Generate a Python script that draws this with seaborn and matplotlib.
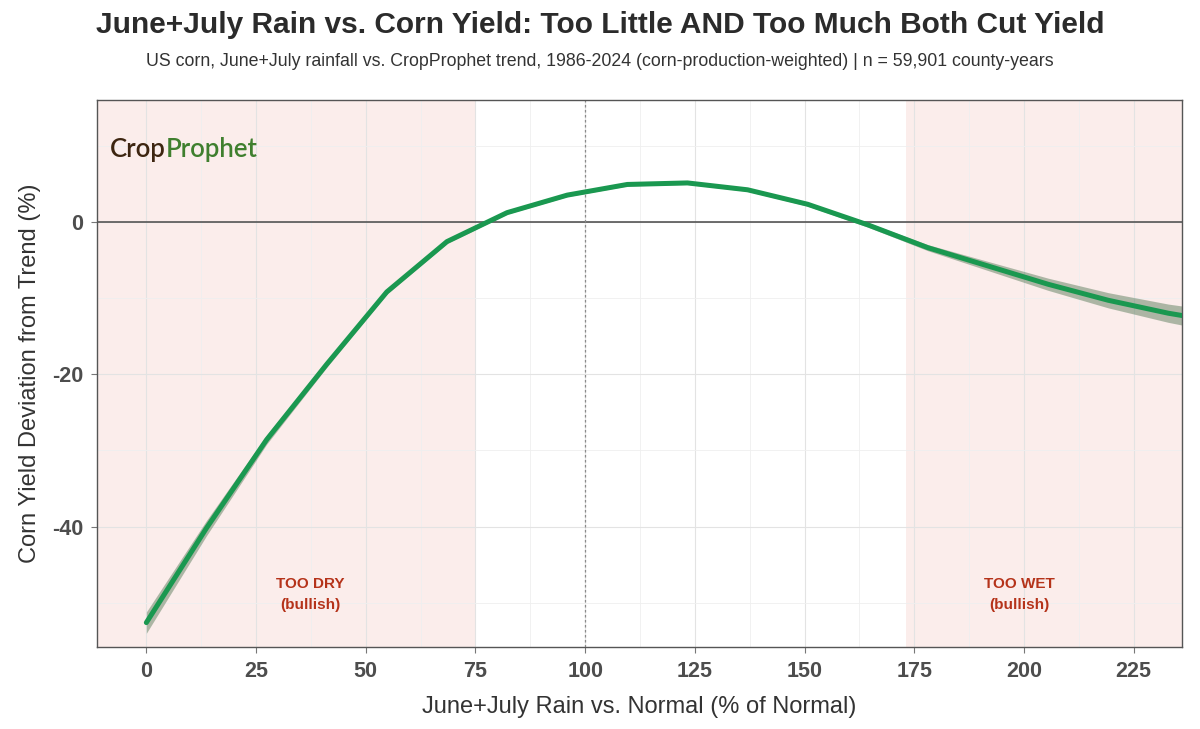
import numpy as np
import pandas as pd
import matplotlib
matplotlib.use("Agg")
import matplotlib.pyplot as plt
from matplotlib.ticker import MultipleLocator
import seaborn as sns

# binned curve
rain_pct = [0, 13.7, 27.4, 41.1, 54.8, 68.5, 82.2, 95.9, 109.6, 123.3,
            137.0, 150.7, 164.4, 178.1, 191.8, 205.5, 219.2, 232.9, 236.0]
yield_dev = [-52.6, -40.2, -28.6, -18.7, -9.2, -2.6, 1.2, 3.5, 4.9, 5.1,
             4.2, 2.3, -0.4, -3.4, -5.8, -8.2, -10.3, -12.0, -12.3]
ci_half = [1.4, 1.0, 0.6, 0.4, 0.3, 0.25, 0.2, 0.2, 0.2, 0.2,
           0.2, 0.25, 0.3, 0.4, 0.6, 0.8, 1.0, 1.2, 1.25]

dry_zone = (-15, 75)
wet_zone = (173, 250)

df = pd.DataFrame({"rain": rain_pct, "dev": yield_dev, "ci": ci_half})

sns.set_theme(style="white")
plt.rcParams["font.family"] = ["Liberation Sans", "DejaVu Sans"]
plt.rcParams["axes.unicode_minus"] = False

fig = plt.figure(figsize=(12, 7.29), dpi=100)
ax = fig.add_axes([0.081, 0.1125, 0.904, 0.7505])

# shaded zones
for lo, hi in [dry_zone, wet_zone]:
    ax.axvspan(lo, hi, color="#f8dcd8", alpha=0.5, lw=0, zorder=0)

# grid
ax.xaxis.set_major_locator(MultipleLocator(25))
ax.xaxis.set_minor_locator(MultipleLocator(12.5))
ax.yaxis.set_major_locator(MultipleLocator(20))
ax.yaxis.set_minor_locator(MultipleLocator(10))
ax.grid(which="major", color="#e3e3e3", lw=0.8, zorder=0.5)
ax.grid(which="minor", color="#efefef", lw=0.6, zorder=0.5)
ax.set_axisbelow(True)

ax.axhline(0, color="#555555", lw=1.2, zorder=1)
ax.axvline(100, color="#8a8a8a", lw=0.9, ls=(0, (2, 2)), zorder=1)

ax.fill_between(df["rain"], df["dev"] - df["ci"], df["dev"] + df["ci"],
                color="#5f7f5f", alpha=0.5, lw=0, zorder=2)
sns.lineplot(data=df, x="rain", y="dev", color="#1a9850", lw=3.6,
             ax=ax, zorder=3, errorbar=None)

ax.set_xlim(-11.2, 236)
ax.set_ylim(-55.8, 16)

for xpos, label in [(37.4, "TOO DRY"), (199, "TOO WET")]:
    ax.text(xpos, -48.9, f"{label}\n(bullish)", ha="center", va="center",
            color="#b5331a", fontsize=11, fontweight="bold", linespacing=1.7)

# logo text
t1 = ax.text(0.012, 0.909, "Crop", transform=ax.transAxes, ha="left",
             va="center", fontsize=18.5, color="#3d2510", family="Lato",
             fontweight="semibold")
ax.annotate("Prophet", xy=(1, 0), xycoords=t1, ha="left", va="bottom",
            fontsize=18.5, color="#3f7f2e", family="Lato", fontweight="semibold")

for s in ax.spines.values():
    s.set_color("#555555")
    s.set_linewidth(1.0)

ax.tick_params(axis="both", which="major", length=4, width=0.8,
               color="#777777", labelsize=15.5, labelcolor="#4d4d4d", pad=6)
ax.tick_params(which="minor", length=0)
ax.tick_params(axis="x", bottom=True)
ax.tick_params(axis="y", left=True)
for lab in ax.get_xticklabels() + ax.get_yticklabels():
    lab.set_fontweight("bold")

ax.set_xlabel("June+July Rain vs. Normal (% of Normal)", fontsize=17,
              color="#333333", labelpad=10)
ax.set_ylabel("Corn Yield Deviation from Trend (%)", fontsize=17,
              color="#333333", labelpad=8)

fig.text(0.5, 0.966, "June+July Rain vs. Corn Yield: Too Little AND Too Much Both Cut Yield",
         ha="center", va="center", fontsize=21.5, fontweight="bold", color="#2b2b2b")
fig.text(0.5, 0.915,
         "US corn, June+July rainfall vs. CropProphet trend, 1986-2024 "
         "(corn-production-weighted) | n = 59,901 county-years",
         ha="center", va="center", fontsize=12.8, color="#333333")

fig.savefig("out.png", dpi=100)
